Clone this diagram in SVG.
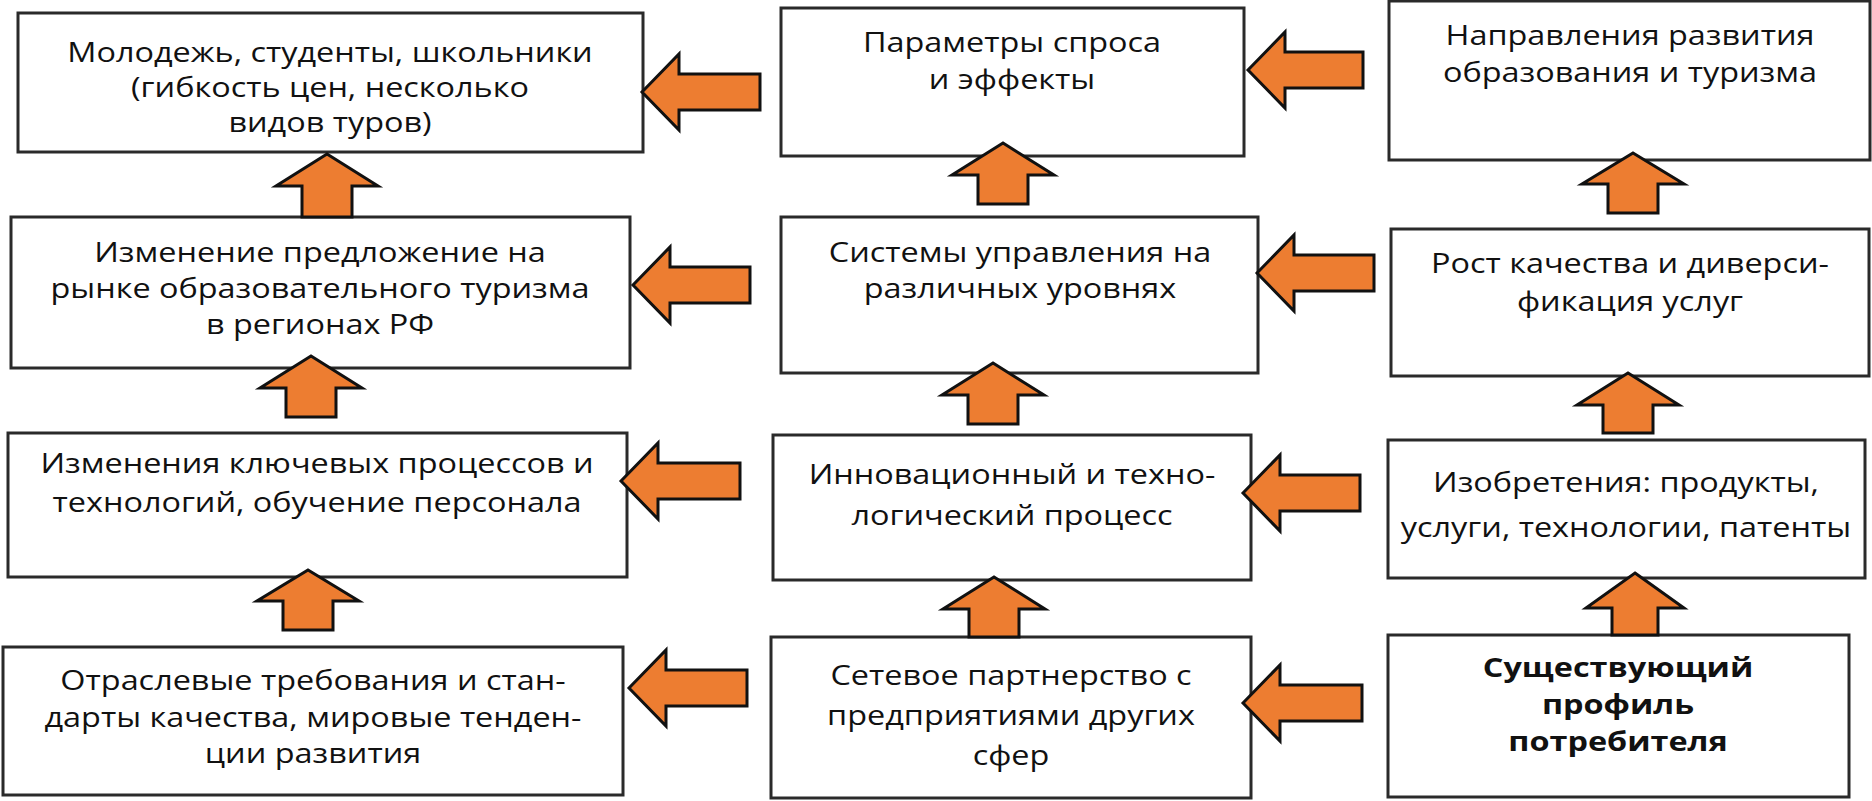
<svg xmlns="http://www.w3.org/2000/svg" width="1872" height="801" viewBox="0 0 1872 801">
<style>
.box{fill:#fff;stroke:#2a2a2a;stroke-width:3}
.arr{fill:#ED7D31;stroke:#111;stroke-width:3;stroke-linejoin:miter}
.t{font-family:"Open Sans","DejaVu Sans",sans-serif;font-size:27px;fill:#111;text-anchor:middle}
.b{font-weight:bold}
</style>
<rect width="1872" height="801" fill="#fff"/>
<g id="nodeA"><rect class="box" x="18" y="13" width="625" height="139"/>
<text class="t" transform="translate(330 0) scale(1.2 1)"><tspan x="0" y="62">Молодежь, студенты, школьники</tspan><tspan x="0" y="97">(гибкость цен, несколько</tspan><tspan x="0" y="132">видов туров)</tspan></text></g>
<g id="nodeB"><rect class="box" x="781" y="8" width="463" height="148"/>
<text class="t" transform="translate(1012 0) scale(1.2 1)"><tspan x="0" y="52">Параметры спроса</tspan><tspan x="0" y="89">и эффекты</tspan></text></g>
<g id="nodeC"><rect class="box" x="1389" y="1" width="481" height="159"/>
<text class="t" transform="translate(1630 0) scale(1.2 1)"><tspan x="0" y="45">Направления развития</tspan><tspan x="0" y="82">образования и туризма</tspan></text></g>
<g id="nodeD"><rect class="box" x="11" y="217" width="619" height="151"/>
<text class="t" transform="translate(320 0) scale(1.2 1)"><tspan x="0" y="262">Изменение предложение на</tspan><tspan x="0" y="298">рынке образовательного туризма</tspan><tspan x="0" y="334">в регионах РФ</tspan></text></g>
<g id="nodeE"><rect class="box" x="781" y="217" width="477" height="156"/>
<text class="t" transform="translate(1020 0) scale(1.2 1)"><tspan x="0" y="262">Системы управления на</tspan><tspan x="0" y="298">различных уровнях</tspan></text></g>
<g id="nodeF"><rect class="box" x="1391" y="229" width="478" height="147"/>
<text class="t" transform="translate(1630 0) scale(1.2 1)"><tspan x="0" y="273">Рост качества и диверси-</tspan><tspan x="0" y="311">фикация услуг</tspan></text></g>
<g id="nodeG"><rect class="box" x="8" y="433" width="619" height="144"/>
<text class="t" transform="translate(317 0) scale(1.2 1)"><tspan x="0" y="473">Изменения ключевых процессов и</tspan><tspan x="0" y="512">технологий, обучение персонала</tspan></text></g>
<g id="nodeH"><rect class="box" x="773" y="435" width="478" height="145"/>
<text class="t" transform="translate(1012 0) scale(1.2 1)"><tspan x="0" y="484">Инновационный и техно-</tspan><tspan x="0" y="525">логический процесс</tspan></text></g>
<g id="nodeI"><rect class="box" x="1388" y="440" width="477" height="138"/>
<text class="t" transform="translate(1626 0) scale(1.2 1)"><tspan x="0" y="492">Изобретения: продукты,</tspan><tspan x="0" y="537">услуги, технологии, патенты</tspan></text></g>
<g id="nodeJ"><rect class="box" x="3" y="647" width="620" height="148"/>
<text class="t" transform="translate(313 0) scale(1.2 1)"><tspan x="0" y="690">Отраслевые требования и стан-</tspan><tspan x="0" y="727">дарты качества, мировые тенден-</tspan><tspan x="0" y="763">ции развития</tspan></text></g>
<g id="nodeK"><rect class="box" x="771" y="637" width="480" height="161"/>
<text class="t" transform="translate(1011 0) scale(1.2 1)"><tspan x="0" y="685">Сетевое партнерство с</tspan><tspan x="0" y="725">предприятиями других</tspan><tspan x="0" y="765">сфер</tspan></text></g>
<g id="nodeL"><rect class="box" x="1388" y="635" width="461" height="162"/>
<text class="t b" transform="translate(1618 0) scale(1.2 1)"><tspan x="0" y="677">Существующий</tspan><tspan x="0" y="714">профиль</tspan><tspan x="0" y="751">потребителя</tspan></text></g>
<g id="connectors">
<path class="arr" d="M642 92 L679 54 L679 74 L760 74 L760 110 L679 110 L679 130 Z"/>
<path class="arr" d="M1248 70 L1285 32 L1285 52 L1363 52 L1363 88 L1285 88 L1285 108 Z"/>
<path class="arr" d="M633 285 L670 247 L670 267 L750 267 L750 303 L670 303 L670 323 Z"/>
<path class="arr" d="M1257 273 L1294 235 L1294 255 L1374 255 L1374 291 L1294 291 L1294 311 Z"/>
<path class="arr" d="M621 481 L658 443 L658 463 L740 463 L740 499 L658 499 L658 519 Z"/>
<path class="arr" d="M1243 493 L1280 455 L1280 475 L1360 475 L1360 511 L1280 511 L1280 531 Z"/>
<path class="arr" d="M629 688 L666 650 L666 670 L747 670 L747 706 L666 706 L666 726 Z"/>
<path class="arr" d="M1243 703 L1280 665 L1280 685 L1362 685 L1362 721 L1280 721 L1280 741 Z"/>
<path class="arr" d="M327 154 L378 186 L352 186 L352 217 L302 217 L302 186 L276 186 Z"/>
<path class="arr" d="M311 356 L362 388 L336 388 L336 417 L286 417 L286 388 L260 388 Z"/>
<path class="arr" d="M308 570 L359 601 L333 601 L333 630 L283 630 L283 601 L257 601 Z"/>
<path class="arr" d="M1003 143 L1054 175 L1028 175 L1028 204 L978 204 L978 175 L952 175 Z"/>
<path class="arr" d="M993 363 L1044 395 L1018 395 L1018 424 L968 424 L968 395 L942 395 Z"/>
<path class="arr" d="M994 577 L1045 609 L1019 609 L1019 637 L969 637 L969 609 L943 609 Z"/>
<path class="arr" d="M1633 153 L1684 184 L1658 184 L1658 213 L1608 213 L1608 184 L1582 184 Z"/>
<path class="arr" d="M1628 373 L1679 405 L1653 405 L1653 433 L1603 433 L1603 405 L1577 405 Z"/>
<path class="arr" d="M1635 573 L1684 608 L1658 608 L1658 635 L1612 635 L1612 608 L1586 608 Z"/>
</g>
</svg>
